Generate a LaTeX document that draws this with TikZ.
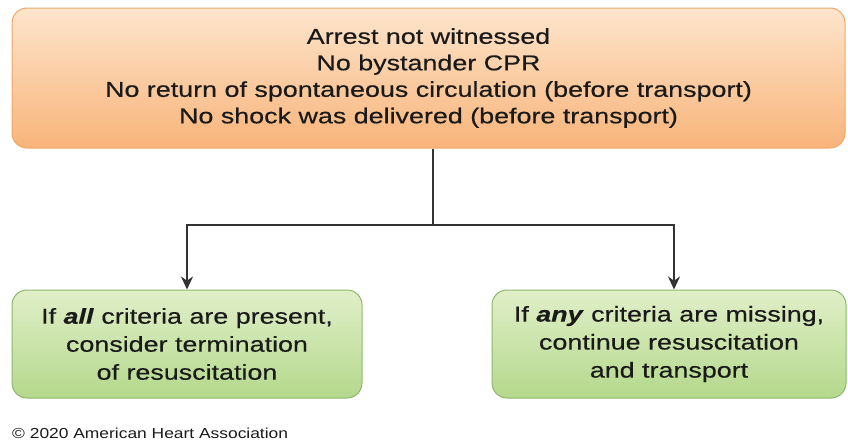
\documentclass[tikz,border=0pt]{standalone}
\usepackage{fontspec}
\setmainfont{Liberation Sans}[FakeStretch=1.25,FakeBold=0.4]
\newfontfamily\copyfont{Liberation Sans}[FakeStretch=1.2]
\usetikzlibrary{arrows.meta,calc}
\definecolor{orTop}{HTML}{FDE5CC}
\definecolor{orBot}{HTML}{F8B47A}
\definecolor{orLine}{HTML}{F0A868}
\definecolor{grTop}{HTML}{E0EFC8}
\definecolor{grBot}{HTML}{B4D88C}
\definecolor{grLine}{HTML}{8DB86C}
\definecolor{lineC}{HTML}{333333}
\definecolor{txt}{HTML}{1A1A1A}
\tikzset{
  topbox/.style={draw=orLine, line width=1pt, rounded corners=15pt, top color=orTop, bottom color=orBot,
    minimum width=833pt, minimum height=140pt, align=center, text=txt, font=\fontsize{21.5}{26.5}\selectfont},
  resbox/.style={draw=grLine, line width=1pt, rounded corners=15pt, top color=grTop, bottom color=grBot,
    minimum height=108pt, align=center, text=txt, font=\fontsize{21.5}{28}\selectfont},
  conn/.style={draw=lineC, line width=2.2pt},
  arr/.style={conn, -{Stealth[length=13pt,width=12pt]}},
}
\begin{document}
\begin{tikzpicture}[x=1pt,y=-1pt]
\useasboundingbox (0,0) rectangle (848,442);
\node[topbox] (top) at (428.5,78) {Arrest not witnessed\\No bystander CPR\\No return of spontaneous circulation (before transport)\\No shock was delivered (before transport)};
\node[resbox, minimum width=350pt] (left) at (187,344) {If \textbf{\textit{all}} criteria are present,\\consider termination\\of resuscitation};
\node[resbox, minimum width=354pt] (right) at (669,344) {If \textbf{\textit{any}} criteria are missing,\\continue resuscitation\\and transport};
\coordinate (j) at (433,225);
\coordinate (rj) at (674,225);
\draw[conn] (top.south -| j) -- (j);
\draw[arr] (j) -| (left.north);
\draw[arr] (j) -- (rj) -- (rj |- right.north);
\node[anchor=west, text=txt, font=\copyfont\fontsize{14.5}{16}\selectfont, inner sep=0pt] (copy) at (12,433) {© 2020 American Heart Association};
\end{tikzpicture}
\end{document}
